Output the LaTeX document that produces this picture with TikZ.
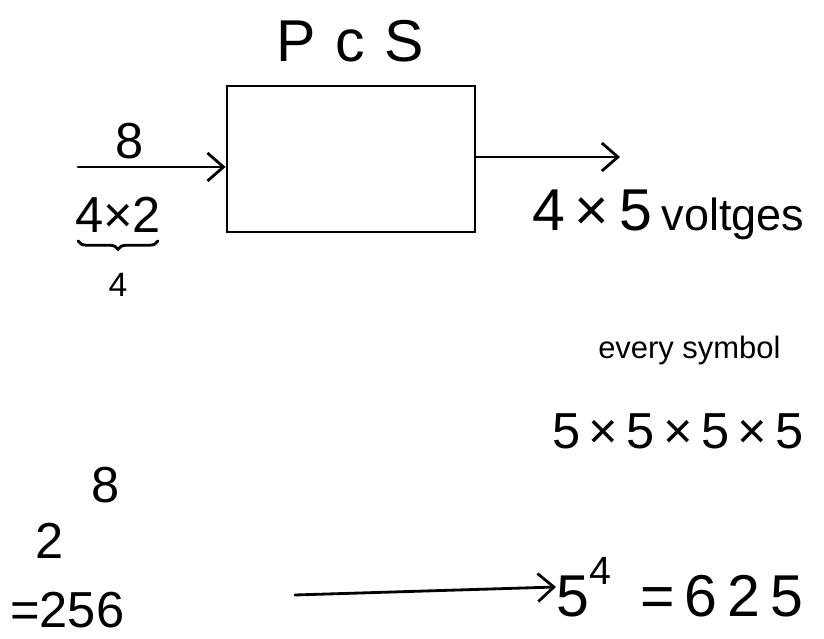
\documentclass[tikz,border=0pt]{standalone}
\usepackage{fontspec}
\setmainfont{Liberation Sans}
\usetikzlibrary{arrows.meta,decorations.pathreplacing,positioning}

\tikzset{
  ink/.style={line width=2pt, line cap=round},
  handarrow/.style={ink, -{Straight Barb[length=4mm,width=7mm,line width=2pt]}},
  hand/.style={inner sep=0pt, font=\fontsize{36}{42}\selectfont},
  bighand/.style={inner sep=0pt, font=\fontsize{42}{48}\selectfont},
  smallhand/.style={inner sep=0pt, font=\fontsize{24}{28}\selectfont}
}

\begin{document}
\begin{tikzpicture}

    % Cadre de la page
    \useasboundingbox (0,0) rectangle (20.6,15.975);

    % Le bloc PCS
    \node[ink, draw, minimum width=6.2cm, minimum height=3.65cm] (pcs) at (8.775,12.0) {};
    \node[bighand] (title) at (8.75,14.95) {P\,\,c\,\,S};

    % Entrée : 8 bits
    \coordinate (in) at (1.95,11.8);
    \draw[handarrow] (in) -- (in -| pcs.west);
    \node[hand] (bits) at (3.25,12.45) {8};
    \node[hand] (fourtwo) at (2.95,10.6) {4×2};
    \draw[ink, decorate, decoration={brace, mirror, amplitude=6pt}]
        (1.95,9.95) -- (3.95,9.95);
    \node[smallhand] (four) at (2.95,8.85) {4};

    % Sortie : tensions
    \coordinate (out) at (15.5,12.05);
    \draw[handarrow] (pcs.east |- out) -- (out);
    \node[bighand, anchor=west] (volts) at (13.3,10.6) {4\,×\,5\,{\fontsize{32}{36}\selectfont voltges}};

    % Chaque symbole
    \node[smallhand, font=\fontsize{22}{26}\selectfont, anchor=west] (every) at (14.95,7.2) {every symbol};
    \node[hand, anchor=west] (prod) at (13.8,5.2) {5\,×\,5\,×\,5\,×\,5};

    % 2^8 = 256
    \node[hand] (eight) at (2.65,3.85) {8};
    \node[hand] (two) at (1.25,2.45) {2};
    \node[hand, anchor=west] (twofiftysix) at (0.25,0.72) {=256};

    % 5^4 = 625
    \node[bighand, anchor=west] (result) at (13.9,1.3)
        {5\raisebox{0.55em}{\fontsize{28}{32}\selectfont 4}\,\,\,=\,6\,2\,5};
    \draw[handarrow] (7.375,1.1) -- (result.west);

\end{tikzpicture}
\end{document}
